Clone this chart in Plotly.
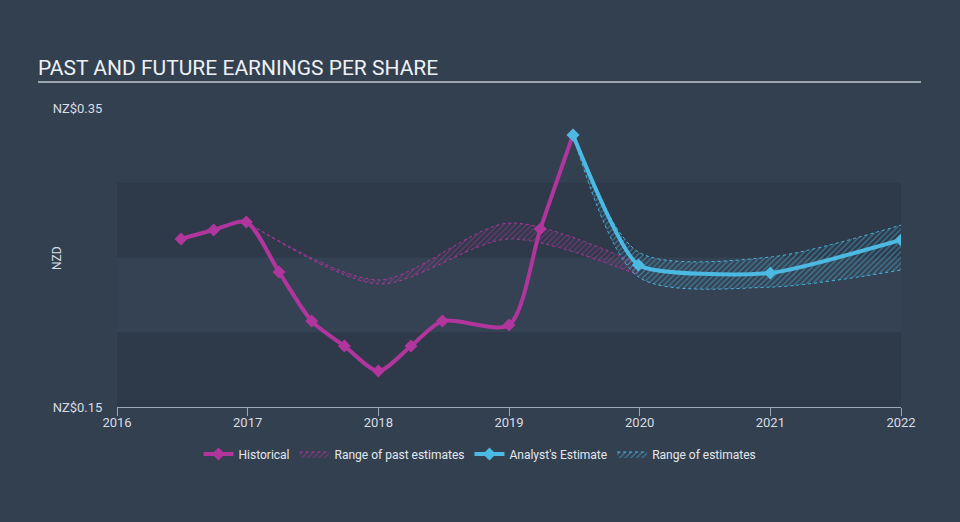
import plotly.graph_objects as go

# ---- data ----
hist_x = [2016.49, 2016.74, 2016.99, 2017.24, 2017.49, 2017.74, 2018.0, 2018.25, 2018.49, 2019.0, 2019.24, 2019.49]
hist_y = [0.2624, 0.2684, 0.2737, 0.2403, 0.2075, 0.1908, 0.1740, 0.1908, 0.2075, 0.2048, 0.2690, 0.3320]

est_x = [2019.49, 2019.99, 2021.0, 2022.0]
est_y = [0.3320, 0.2450, 0.2396, 0.2617]

past_rng_x = [2016.99, 2018.0, 2019.0, 2019.99]
past_rng_hi = [0.2737, 0.2350, 0.2730, 0.2456]
past_rng_lo = [0.2737, 0.2323, 0.2624, 0.2383]

est_rng_x = [2019.49, 2019.99, 2021.0, 2022.0]
est_rng_hi = [0.3320, 0.2537, 0.2503, 0.2717]
est_rng_lo = [0.3320, 0.2370, 0.2302, 0.2416]

x_ticks = [2016, 2017, 2018, 2019, 2020, 2021, 2022]
y_ticks = [0.15, 0.35]
y_ticktext = ["NZ$0.15", "NZ$0.35"]
band_edges = [0.15, 0.20, 0.25, 0.30]

MAG = "#b0359c"
CYA = "#4cb9e2"
BG = "#334050"

fig = go.Figure()

def band(xs, lo, hi, color, rgba, name, rank):
    fig.add_trace(go.Scatter(x=xs, y=lo, mode="lines", line=dict(color=color, width=1, dash="dot", shape="spline", smoothing=0.8),
                             showlegend=False, hoverinfo="skip"))
    fig.add_trace(go.Scatter(x=xs, y=hi, mode="lines", line=dict(color=color, width=1, dash="dot", shape="spline", smoothing=0.8),
                             fill="tonexty", fillcolor=rgba,
                             fillpattern=dict(shape="/", fgcolor=color, bgcolor="rgba(0,0,0,0)", size=4, solidity=0.3, fillmode="overlay"),
                             name=name, legendrank=rank, hoverinfo="skip"))

band(past_rng_x, past_rng_lo, past_rng_hi, MAG, "rgba(176,53,156,0.15)", "Range of past estimates", 2)
band(est_rng_x, est_rng_lo, est_rng_hi, CYA, "rgba(76,185,226,0.15)", "Range of estimates", 4)

fig.add_trace(go.Scatter(x=hist_x, y=hist_y, mode="lines+markers", name="Historical", legendrank=1,
                         line=dict(color=MAG, width=4, shape="spline", smoothing=0.75),
                         marker=dict(symbol="diamond", size=10, color=MAG)))
fig.add_trace(go.Scatter(x=est_x, y=est_y, mode="lines+markers", name="Analyst's Estimate", legendrank=3,
                         line=dict(color=CYA, width=4, shape="spline", smoothing=0.5),
                         marker=dict(symbol="diamond", size=10, color=CYA)))

shapes = []
band_cols = ["#2e3a4a", "#354253", "#2e3a4a"]
for i in range(3):
    shapes.append(dict(type="rect", xref="paper", yref="y", x0=0, x1=1, y0=band_edges[i], y1=band_edges[i + 1],
                       fillcolor=band_cols[i], line=dict(width=0), layer="below"))
# title underline
shapes.append(dict(type="line", xref="paper", yref="paper", x0=(38 - 117) / 784, x1=(921 - 117) / 784,
                   y0=(407 - 82) / 299, y1=(407 - 82) / 299, line=dict(color="#c3c9d0", width=1.5)))

fig.update_layout(
    width=960, height=522,
    paper_bgcolor=BG, plot_bgcolor=BG,
    margin=dict(l=117, r=59, t=108, b=115, autoexpand=False),
    font=dict(family="Roboto", color="#d8dde4", size=13),
    title=dict(text="PAST AND FUTURE EARNINGS PER SHARE", x=38 / 960, xanchor="left", xref="container",
               y=1 - 68 / 522, yanchor="middle", yref="container", font=dict(size=21, color="#eef1f4")),
    shapes=shapes,
    showlegend=True,
    legend=dict(orientation="h", xref="paper", yref="paper", x=(480 - 117) / 784, xanchor="center",
                y=(407 - 454) / 299, yanchor="middle", font=dict(size=12, color="#e4e8ed"),
                bgcolor="rgba(0,0,0,0)", itemwidth=30, traceorder="normal"),
    annotations=[dict(text="NZD", textangle=-90, xref="paper", yref="paper", x=(57 - 117) / 784, y=(407 - 258) / 299,
                      showarrow=False, font=dict(size=12, color="#d8dde4"), xanchor="center", yanchor="middle")],
)

fig.update_xaxes(range=[2016, 2022], tickvals=x_ticks, ticktext=[str(v) for v in x_ticks], showgrid=False, zeroline=False,
                 showline=True, linecolor="#9aa8b8", linewidth=1, ticks="outside", ticklen=8, tickcolor="#9aa8b8",
                 ticklabelstandoff=-5,
                 tickfont=dict(size=13, color="#d8dde4"), automargin=False)
fig.update_yaxes(range=[0.15, 0.35], tickvals=y_ticks, ticktext=y_ticktext, showgrid=False, zeroline=False,
                 showline=False, ticks="outside", ticklen=11, tickcolor="rgba(0,0,0,0)",
                 tickfont=dict(size=13, color="#d8dde4"), automargin=False)

fig.write_html("out.html")
